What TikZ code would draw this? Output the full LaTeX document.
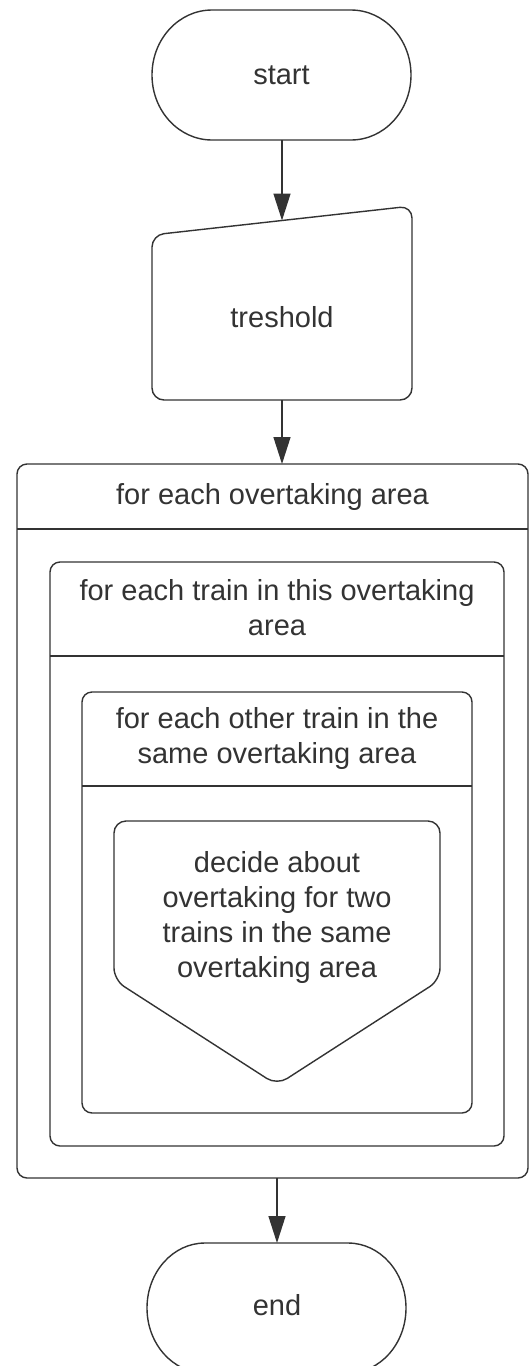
\documentclass[tikz,border=0pt]{standalone}
\usepackage{fontspec}
\setmainfont{Liberation Sans}
\usetikzlibrary{arrows.meta}
\definecolor{ink}{HTML}{333333}
\tikzset{
  shapeline/.style={draw=ink, line width=1.4pt, fill=white},
  label/.style={text=ink, align=center, inner sep=0pt, font=\fontsize{29}{35}\selectfont},
  flow/.style={draw=ink, line width=1.4pt, -{Triangle[length=27pt,width=17pt]}}
}
\begin{document}
\begin{tikzpicture}[x=1pt,y=1pt]
\useasboundingbox (0,0) rectangle (529,-1366);
\fill[white] (0,0) rectangle (529,-1366);

% start terminal
\draw[shapeline] (212,-10) -- (351,-10) arc[start angle=90,end angle=-90,x radius=60,y radius=65]
  -- (212,-140) arc[start angle=270,end angle=90,x radius=60,y radius=65] -- cycle;
\node[label] (start) at (281.5,-75) {start};
\coordinate (startB) at (282,-140);

% manual input
\draw[shapeline, rounded corners=12pt] (282,-400) -- (152,-400) -- (152,-235) -- (412,-206) -- (412,-400) -- cycle;
\node[label] (thr) at (282,-317) {treshold};
\coordinate (thrT) at (282,-220.5);
\coordinate (thrB) at (282,-400);

% outer loop
\draw[shapeline, rounded corners=10pt] (17,-464) rectangle (528,-1178);
\draw[draw=ink, line width=1.4pt] (17,-529) -- (528,-529);
\node[label] (outer) at (272.5,-496.5) {for each overtaking area};
\coordinate (outerT) at (282,-464);
\coordinate (outerB) at (277,-1178);

% middle loop
\draw[shapeline, rounded corners=10pt] (50,-562) rectangle (504,-1146);
\draw[draw=ink, line width=1.4pt] (50,-656) -- (504,-656);
\node[label] (middle) at (277,-608) {for each train in this overtaking\\area};

% inner loop
\draw[shapeline, rounded corners=10pt] (82,-692) rectangle (472,-1113);
\draw[draw=ink, line width=1.4pt] (82,-786) -- (472,-786);
\node[label] (inner) at (277,-738) {for each other train in the\\same overtaking area};

% off-page style process
\draw[shapeline, rounded corners=12pt] (277,-821) -- (114,-821) -- (114,-980) -- (277,-1085) -- (440,-980) -- (440,-821) -- cycle;
\node[label] (decide) at (277,-917) {decide about\\overtaking for two\\trains in the same\\overtaking area};

% end terminal
\draw[shapeline] (205,-1243) -- (348,-1243) arc[start angle=90,end angle=-90,x radius=58,y radius=65]
  -- (205,-1373) arc[start angle=270,end angle=90,x radius=58,y radius=65] -- cycle;
\node[label] (end) at (277,-1305) {end};
\coordinate (endT) at (277,-1243);

% connectors
\draw[flow] (startB) -- (thrT);
\draw[flow] (thrB) -- (outerT);
\draw[flow] (outerB) -- (endT);
\end{tikzpicture}
\end{document}
